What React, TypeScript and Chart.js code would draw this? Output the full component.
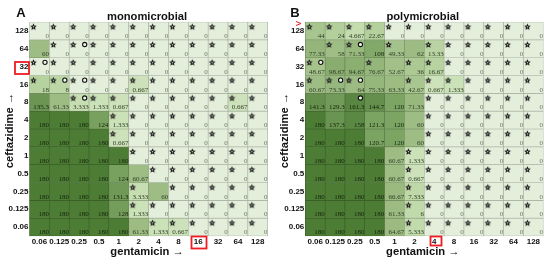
import React, { useEffect, useRef } from "react";
import { Chart, registerables } from "chart.js";

Chart.register(...registerables);

const gentamicin = ["0.06", "0.125", "0.25", "0.5", "1", "2", "4", "8", "16", "32", "64", "128"];
const ceftazidime = ["128", "64", "32", "16", "8", "4", "2", "1", "0.5", "0.25", "0.125", "0.06"];

// top row first, rows follow ceftazidime
const monoValues: number[][] = [
  [0, 0, 0, 0, 0, 0, 0, 0, 0, 0, 0, 0],
  [60, 0, 0, 0, 0, 0, 0, 0, 0, 0, 0, 0],
  [0, 0, 0, 0, 0, 0, 0, 0, 0, 0, 0, 0],
  [18, 8, 0, 0, 0, 0.667, 0, 0, 0, 0, 0, 0],
  [135.3, 61.33, 3.333, 1.333, 0.667, 0, 0, 0, 0, 0, 0.667, 0],
  [180, 180, 180, 124, 1.333, 0, 0, 0, 0, 0, 0, 0],
  [180, 180, 180, 180, 0.667, 0, 0, 0, 0, 0, 0, 0],
  [180, 180, 180, 180, 180, 0, 0, 0, 0, 0, 0, 0],
  [180, 180, 180, 180, 124, 60.67, 0, 0, 0, 0, 0, 0],
  [180, 180, 180, 180, 131.3, 3.333, 60, 0, 0, 0, 0, 0],
  [180, 180, 180, 180, 128, 1.333, 0, 0, 0, 0, 0, 0],
  [180, 180, 180, 180, 180, 61.33, 1.333, 0.667, 0, 0, 0, 0],
];
const monoStars: string[] = [
  "111111111111",
  "011111111111",
  "111111111111",
  "111111111111",
  "001111111111",
  "000011111111",
  "000011111111",
  "000001111111",
  "000000111111",
  "000001011111",
  "000001111111",
  "000000111111",
];
// [column, row]
const monoCircles: [number, number][] = [[2, 1], [0, 2], [1, 3], [2, 3], [2, 4]];

const polyValues: number[][] = [
  [44, 24, 4.667, 22.67, 0, 0, 0, 0, 0, 0, 0, 0],
  [77.33, 58, 71.33, 108, 49.33, 62, 13.33, 0, 0, 0, 0, 0],
  [48.67, 98.67, 94.67, 76.67, 52.67, 36, 16.67, 0, 0, 0, 0, 0],
  [60.67, 73.33, 64, 75.33, 63.33, 42.67, 0.667, 1.333, 0, 0, 0, 0],
  [141.3, 129.3, 161.3, 144.7, 120, 71.33, 0, 0, 0, 0, 0, 0],
  [180, 137.3, 158, 121.3, 120, 60, 0, 0, 0, 0, 0, 0],
  [180, 180, 180, 120.7, 120, 60, 0, 0, 0, 0, 0, 0],
  [180, 180, 180, 180, 60.67, 1.333, 0, 0, 0, 0, 0, 0],
  [180, 180, 180, 180, 60.67, 0.667, 0, 0, 0, 0, 0, 0],
  [180, 180, 180, 180, 66.67, 7.333, 0, 0, 0, 0, 0, 0],
  [180, 180, 180, 180, 61.33, 6, 0, 0, 0, 0, 0, 0],
  [180, 180, 180, 180, 64.67, 5.333, 0, 0, 0, 0, 0, 0],
];
const polyStars: string[] = [
  "111111111111",
  "011010111111",
  "100101111111",
  "111001111111",
  "000000111111",
  "000000111111",
  "000000111111",
  "000001111111",
  "000001111111",
  "000001111111",
  "000001111111",
  "000001111111",
];
const polyCircles: [number, number][] = [[2, 1], [0, 2], [1, 3], [2, 3], [2, 4]];

const colorStops: [number, number[]][] = [
  [0, [227, 238, 219]],
  [0.5, [205, 226, 186]],
  [8, [188, 215, 165]],
  [60, [158, 189, 132]],
  [120, [124, 164, 99]],
  [140, [103, 145, 79]],
  [180, [77, 124, 53]],
];

function mix(v: number, k = 1): string {
  let i = 0;
  while (i < colorStops.length - 2 && v > colorStops[i + 1][0]) i++;
  const [a, ca] = colorStops[i];
  const [b, cb] = colorStops[i + 1];
  const t = Math.min(1, (v - a) / (b - a));
  const c = ca.map((x, j) => Math.round((x + (cb[j] - x) * t) * k));
  return `rgb(${c[0]},${c[1]},${c[2]})`;
}

function makeStar(): HTMLCanvasElement {
  const c = document.createElement("canvas");
  c.width = 9;
  c.height = 9;
  const ctx = c.getContext("2d")!;
  ctx.beginPath();
  for (let i = 0; i < 10; i++) {
    const r = i % 2 === 0 ? 3.5 : 1.6;
    const a = -Math.PI / 2 + (i * Math.PI) / 5;
    const x = 4.5 + r * Math.cos(a);
    const y = 4.8 + r * Math.sin(a);
    if (i === 0) ctx.moveTo(x, y);
    else ctx.lineTo(x, y);
  }
  ctx.closePath();
  ctx.fillStyle = "#111";
  ctx.fill();
  ctx.fillStyle = "rgba(235,240,225,0.9)";
  ctx.beginPath();
  ctx.arc(4.5, 4.8, 0.8, 0, Math.PI * 2);
  ctx.fill();
  return c;
}

const tickFont = { family: '"Liberation Sans", Arial, sans-serif', size: 8, weight: "bold" as const };
const titleFont = { family: '"Liberation Sans", Arial, sans-serif', size: 11.2, weight: "bold" as const, lineHeight: 1.2 };

function buildPanel(
  canvas: HTMLCanvasElement,
  values: number[][],
  starRows: string[],
  circles: [number, number][],
  title: string,
  letter: string,
  letterX: number,
  plotLeft: number,
  plotRightPad: number,
  marks: (ctx: CanvasRenderingContext2D) => void
): Chart {
  const n = ceftazidime.length;
  const rowBase = (r: number) => n - 1 - r;
  const starPts: { x: number; y: number }[] = [];
  starRows.forEach((line, r) =>
    line.split("").forEach((f, c) => {
      if (f === "1") starPts.push({ x: c + 0.2, y: rowBase(r) + 0.74 });
    })
  );
  const circlePts = circles.map(([c, r]) => ({ x: c + 0.78, y: rowBase(r) + 0.74 }));

  const bars = values.map((row, r) => ({
    type: "bar" as const,
    label: ceftazidime[r],
    data: row.map(() => [rowBase(r), rowBase(r) + 1]),
    backgroundColor: row.map((v) => mix(v)),
    borderColor: row.map((v) => mix(v, 0.74)),
    borderWidth: 0.65,
    borderSkipped: false,
    barPercentage: 1,
    categoryPercentage: 1,
    grouped: false,
    xAxisID: "x",
    yAxisID: "y",
    order: 3,
  }));

  const valueLabels = {
    id: "valueLabels",
    afterDatasetsDraw(chart: Chart) {
      const ctx = chart.ctx;
      const xs = chart.scales.xp;
      const ys = chart.scales.y;
      ctx.save();
      ctx.font = '7px "Liberation Serif", serif';
      ctx.textAlign = "right";
      ctx.textBaseline = "alphabetic";
      values.forEach((row, r) =>
        row.forEach((v, c) => {
          ctx.fillStyle = v === 0 ? "#6f7a68" : v > 100 ? "#14240c" : "#323f2a";
          ctx.fillText(String(v), xs.getPixelForValue(c + 1) - 0.3, ys.getPixelForValue(rowBase(r)) - 1.7);
        })
      );
      ctx.restore();
    },
  };

  const panelMarks = {
    id: "panelMarks",
    afterDraw(chart: Chart) {
      const ctx = chart.ctx;
      ctx.save();
      ctx.fillStyle = "#111";
      ctx.font = 'bold 13px "Liberation Sans", Arial, sans-serif';
      ctx.textAlign = "center";
      ctx.textBaseline = "alphabetic";
      ctx.fillText(letter, letterX, 17);
      marks(ctx);
      ctx.restore();
    },
  };

  return new Chart(canvas, {
    data: {
      labels: gentamicin,
      datasets: [
        ...bars,
        {
          type: "line" as const,
          label: "star",
          data: starPts,
          showLine: false,
          pointStyle: makeStar(),
          pointRadius: 4,
          xAxisID: "xp",
          yAxisID: "y",
          order: 2,
        },
        {
          type: "line" as const,
          label: "circle",
          data: circlePts,
          showLine: false,
          pointStyle: "circle",
          pointRadius: 2.1,
          pointBorderWidth: 1.1,
          pointBorderColor: "#111",
          pointBackgroundColor: "#f4f7f0",
          xAxisID: "xp",
          yAxisID: "y",
          order: 1,
        },
      ] as any,
    },
    options: {
      responsive: false,
      animation: false,
      clip: false,
      layout: { padding: { top: 0.6, right: plotRightPad, left: 0, bottom: 0 } },
      plugins: {
        legend: { display: false },
        tooltip: { enabled: false },
        title: {
          display: true,
          text: title + " ",
          fullSize: false,
          color: "#111",
          font: titleFont,
          padding: { top: 9.8, bottom: -1.8 },
        },
      },
      scales: {
        x: {
          type: "category",
          offset: true,
          grid: { display: false, drawTicks: false },
          border: { display: false },
          ticks: { color: "#111", font: tickFont, padding: 1, autoSkip: false, maxRotation: 0 },
          title: {
            display: true,
            text: "gentamicin → ",
            color: "#111",
            font: titleFont,
            padding: { top: 0, bottom: 5 },
          },
          afterFit: (s: any) => {
            s.height = 28;
          },
        },
        xp: { type: "linear", min: 0, max: 12, display: false },
        y: {
          type: "linear",
          min: 0,
          max: 12,
          grid: { display: false, drawTicks: false },
          border: { display: false },
          afterBuildTicks: (s: any) => {
            s.ticks = ceftazidime.map((_, i) => ({ value: i + 0.5 }));
          },
          ticks: {
            color: "#111",
            font: tickFont,
            padding: 1,
            autoSkip: false,
            callback: (v: any) => ceftazidime[n - 1 - Math.floor(Number(v))],
          },
          title: {
            display: true,
            text: "ceftazidime → ",
            color: "#111",
            font: titleFont,
            padding: { top: 3, bottom: 0 },
          },
          afterFit: (s: any) => {
            s.width = plotLeft;
          },
        },
      },
    } as any,
    plugins: [valueLabels, panelMarks] as any,
  });
}

function redBox(ctx: CanvasRenderingContext2D, x: number, y: number, w: number, h: number) {
  ctx.strokeStyle = "#ee1c25";
  ctx.lineWidth = 1.8;
  ctx.strokeRect(x, y, w, h);
}

export default function App() {
  const a = useRef<HTMLCanvasElement>(null);
  const b = useRef<HTMLCanvasElement>(null);
  useEffect(() => {
    const ca = buildPanel(a.current!, monoValues, monoStars, monoCircles, "monomicrobial", "A", 21, 29.5, 7.3, (ctx) => {
      redBox(ctx, 15, 62, 14, 12);
      redBox(ctx, 191.5, 236.5, 15, 12);
    });
    const cb = buildPanel(b.current!, polyValues, polyStars, polyCircles, "polymicrobial", "B", 20, 30.3, 6.7, (ctx) => {
      redBox(ctx, 155.5, 236.5, 11, 9);
      ctx.strokeStyle = "#ee1c25";
      ctx.lineWidth = 1;
      ctx.beginPath();
      ctx.moveTo(21, 21.5);
      ctx.lineTo(26, 23.5);
      ctx.lineTo(21, 25.5);
      ctx.stroke();
    });
    return () => {
      ca.destroy();
      cb.destroy();
    };
  }, []);
  return (
    <div style={{ position: "absolute", left: 0, top: 0, width: 550, height: 264, overflow: "hidden", background: "#fff" }}>
      <canvas ref={a} width={275} height={264} style={{ position: "absolute", left: 0, top: 0 }} />
      <canvas ref={b} width={275} height={264} style={{ position: "absolute", left: 275, top: 0 }} />
    </div>
  );
}
